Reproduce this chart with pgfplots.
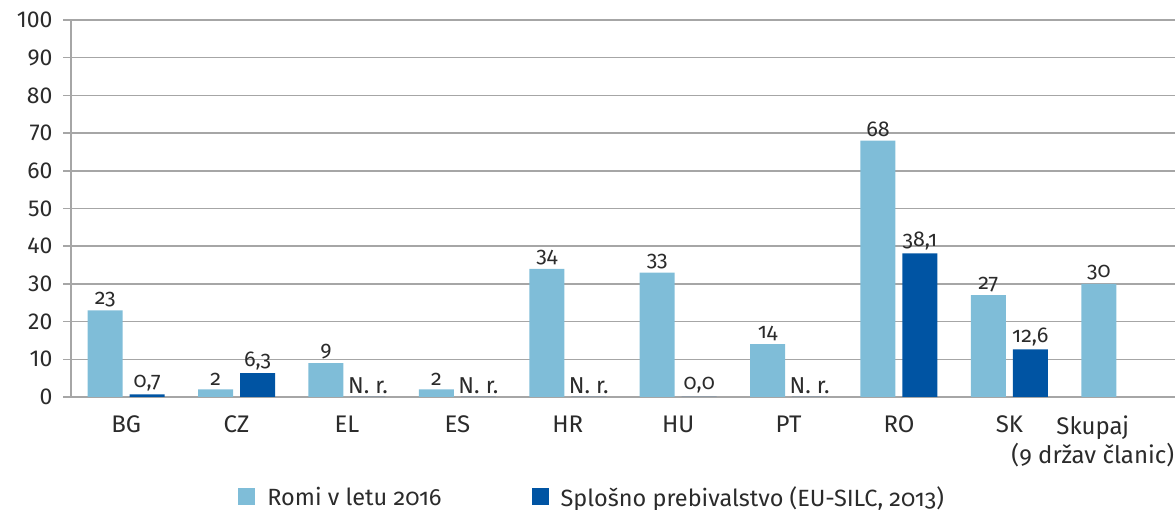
\documentclass[border=0pt]{standalone}
\usepackage{fontspec}
\setmainfont{Fira Sans}
\newfontfamily\osf{Fira Sans}[Numbers=OldStyle]
\usepackage{pgfplots}
\usepackage{pgfplotstable}
\pgfplotsset{compat=1.18}
\definecolor{romi}{HTML}{7FBDD8}
\definecolor{splo}{HTML}{0054A3}
\definecolor{gridc}{HTML}{A6A6A6}
\definecolor{txt}{HTML}{2B2B2B}
\newcommand\nr{\fontsize{23}{25}\selectfont N.~r.}

\pgfplotstableread{
x y lab
0 23 23
1 2 2
2 9 9
3 2 2
4 34 34
5 33 33
6 14 14
7 68 68
8 27 27
9 30 30
}\romi

\pgfplotstableread{
x y lab
0 0.7 0,7
1 6.3 6,3
2 0 \nr
3 0 \nr
4 0 \nr
5 0 0,0
6 0 \nr
7 38.1 38,1
8 12.6 12,6
}\splosno

\begin{document}
\begin{tikzpicture}
\useasboundingbox (0,0) rectangle (1175pt,510pt);
\begin{axis}[
  at={(71pt,113pt)}, anchor=south west,
  scale only axis, width=1104pt, height=377pt,
  xmin=-0.5, xmax=9.5, ymin=0, ymax=100,
  ybar=7pt, bar width=35pt,
  ytick={0,10,...,100},
  xtick={0,...,8},
  xticklabels={BG,CZ,EL,ES,HR,HU,PT,RO,SK},
  extra x ticks={9},
  extra x tick labels={Skupaj\\(9 držav članic)},
  extra x tick style={xtick style={draw=none}, tick label style={xshift=-27pt, align=center}},
  axis x line*=bottom, axis y line*=left,
  axis line style={gridc, line width=1.5pt},
  ymajorgrids, grid style={gridc, line width=1.5pt},
  tick align=outside,
  major tick length=8pt,
  ytick style={gridc, line width=1.5pt},
  xtick style={draw=none},
  yticklabel style={font=\fontsize{23}{26}\selectfont, text=txt, xshift=-7pt},
  xticklabel style={font=\osf\fontsize{24}{29}\selectfont, text=txt, yshift=-7pt},
  /pgf/number format/assume math mode=true,
  nodes near coords,
  point meta=explicit symbolic,
  nodes near coords style={font=\osf\fontsize{21.5}{23}\selectfont, text=txt},
  legend style={at={(0.472,-0.265)}, anchor=center, draw=none, fill=none,
    legend columns=2, font=\osf\fontsize{23.5}{26}\selectfont, text=txt,
    /tikz/every odd column/.append style={column sep=10pt},
    /tikz/every even column/.append style={column sep=88pt}},
  legend image code/.code={\fill[#1, draw=none] (0pt,-8pt) rectangle (17pt,9pt);},
]
\addplot[fill=romi, draw=none] table[x=x, y=y, meta=lab] {\romi};
\addplot[fill=splo, draw=none] table[x=x, y=y, meta=lab] {\splosno};
\legend{Romi v letu 2016, Splošno prebivalstvo (EU-SILC{,} 2013)}
\end{axis}
\end{tikzpicture}
\end{document}
